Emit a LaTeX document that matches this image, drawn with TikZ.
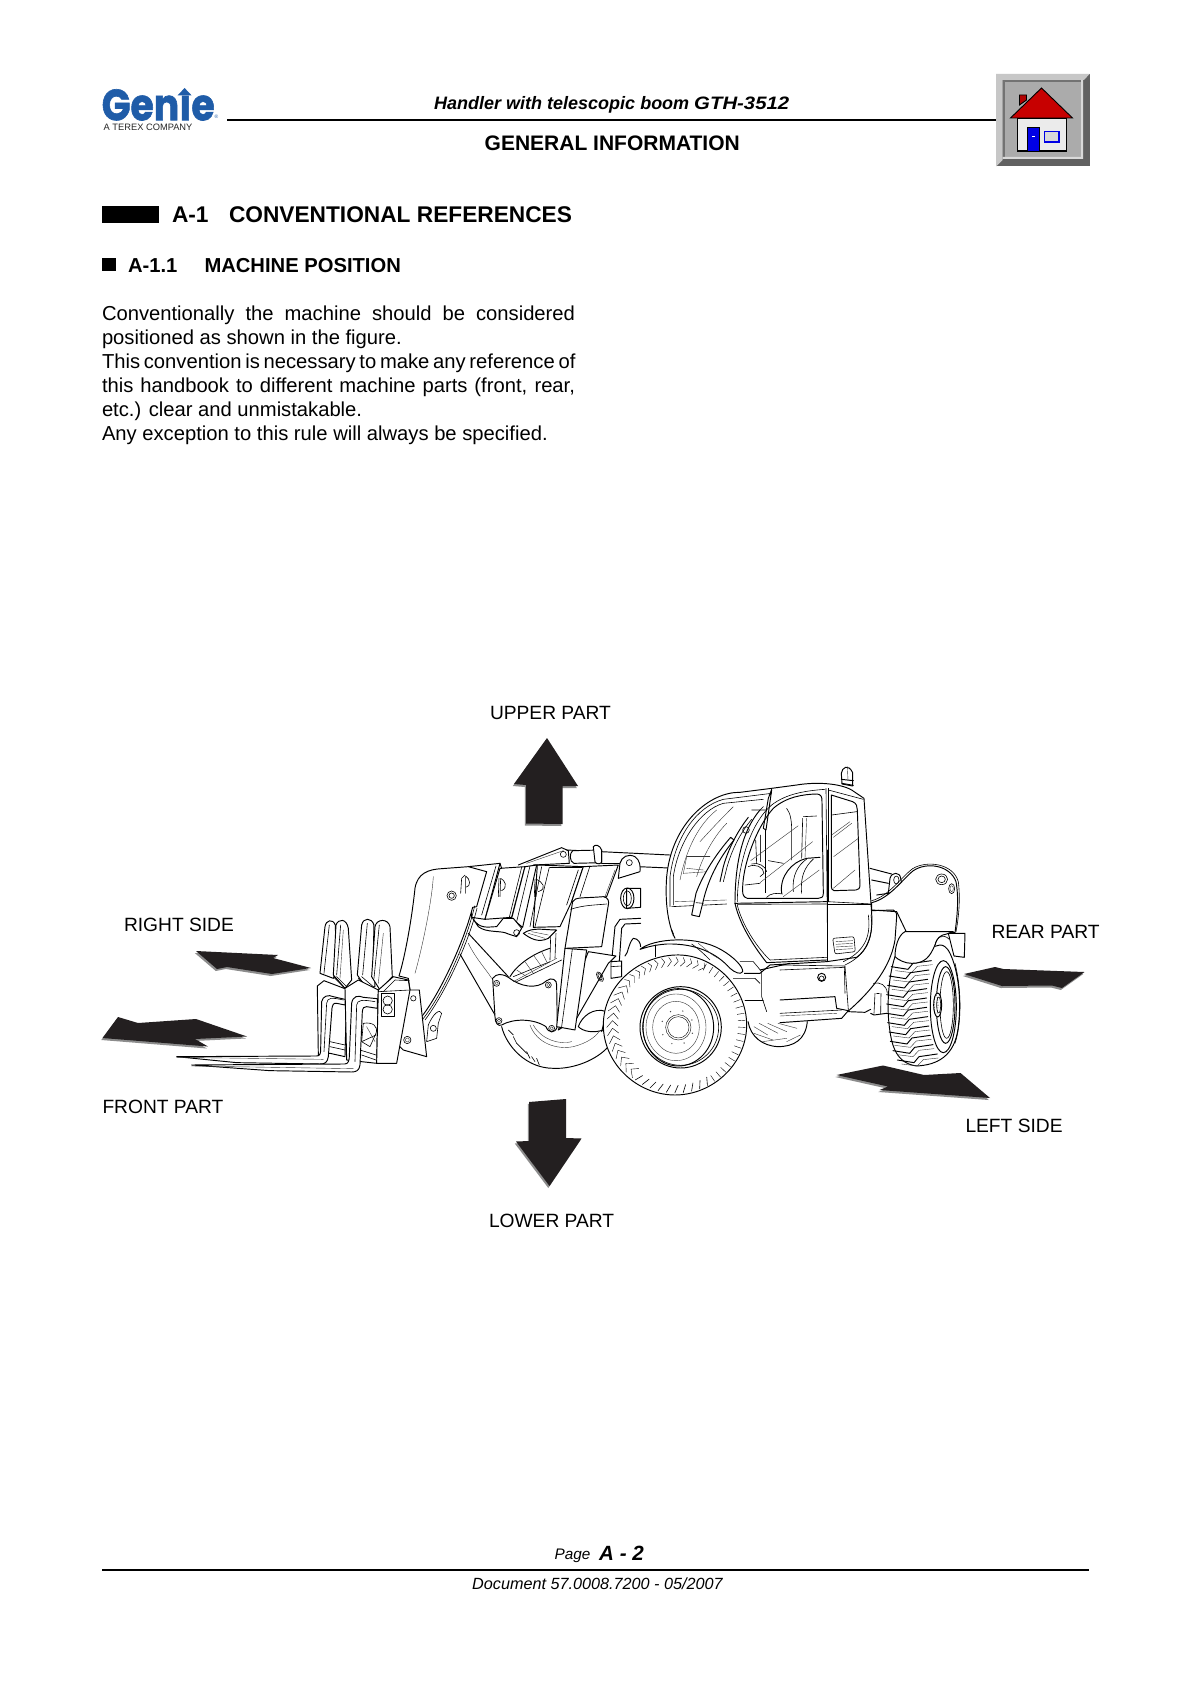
\documentclass[tikz,border=0pt]{standalone}
\usepackage{graphicx}
\usepackage{fontspec}
\setmainfont{Liberation Sans}
\newfontfamily\logofont{Poppins}[BoldFeatures={FakeBold=1.5}]
\definecolor{arrowdark}{HTML}{231F20}
\definecolor{genieblue}{HTML}{1F5CA8}
\tikzset{
  txt/.style={anchor=base west,inner sep=0pt,outer sep=0pt,font=\fontsize{20.2}{24}\selectfont},
  lab/.style={anchor=base west,inner sep=0pt,outer sep=0pt,font=\fontsize{19.2}{24}\selectfont},
  head/.style={anchor=base west,inner sep=0pt,outer sep=0pt,font=\fontsize{20.2}{24}\selectfont\bfseries},
  arrowfill/.style={fill=arrowdark},
  arrowshadow/.style={fill=black!45},
  mach/.style={draw=black,line width=0.95pt,line join=round,line cap=round},
  machw/.style={mach,fill=white},
  thin/.style={draw=black!80,line width=0.4pt,line cap=round,line join=round},
  mid/.style={draw=black,line width=0.6pt,line cap=round,line join=round},
}
\newcommand{\dirarrow}[1]{\fill[arrowshadow,shift={(-1.2,2)}] #1; \fill[arrowfill] #1;}
\begin{document}
\begin{tikzpicture}[x=1pt,y=-1pt]
\useasboundingbox (0,0) rectangle (1192,1685);
\fill[white] (0,0) rectangle (1192,1685);
% ---------- logo
\node[anchor=south west,inner sep=0pt,text=genieblue] (logoword) at (101.5,120.8) {\resizebox{113pt}{31pt}{\logofont\bfseries Gen\char"0131 e}};
\fill[genieblue] (177.5,95.5) -- (184.6,88) -- (191.7,95.5) -- cycle;
\node[anchor=base west,inner sep=0pt,font=\fontsize{9.3}{10}\selectfont,text=black!85] (logosub) at (103.5,130.5) {A TEREX COMPANY};
\node[anchor=base west,inner sep=0pt,font=\fontsize{5}{6}\selectfont,text=genieblue] (logor) at (214.5,119) {®};
% ---------- header
\draw[line width=1.7pt] (227,120) -- (996,120);
\node[anchor=base west,inner sep=0pt,font=\fontsize{18}{20}\selectfont\bfseries\itshape] (htitle) at (434,110) {Handler with telescopic boom \scalebox{1.13}[1]{GTH-3512}};
\node[anchor=base west,inner sep=0pt,font=\fontsize{21}{24}\selectfont\bfseries] (hsub) at (484.5,151) {GENERAL INFORMATION};
% ---------- house icon
\fill[black!62] (996,74) rectangle (1089.5,166.5);
\fill[black!22] (996,74) -- (1089.5,74) -- (1084,80) -- (1002.5,80) -- (1002.5,160) -- (996,166.5) -- cycle;
\fill[black!55] (1002.5,80) rectangle (1081,157);
\fill[black!33] (1004.5,82) rectangle (1081,157);
\fill[black!15] (1081,80) -- (1083,80) -- (1083,159) -- (1002.5,159) -- (1002.5,157) -- (1081,157) -- cycle;
\fill[red!70!black,draw=black,line width=0.9pt] (1019.5,105) -- (1019.5,95) -- (1026.5,95) -- (1026.5,100) -- cycle;
\fill[white!92!black,draw=black,line width=1.2pt] (1017.5,118) rectangle (1066.5,151);
\fill[red!78!black,draw=black,line width=0.9pt] (1041.5,88) -- (1072.5,118) -- (1010.5,118) -- cycle;
\fill[blue!90!black,draw=black,line width=0.9pt] (1027,127.5) rectangle (1039,151);
\fill[white] (1032,136) rectangle (1034.5,137.5);
\fill[white!85!black,draw=blue!90!black,line width=1.2pt] (1044.5,131.5) rectangle (1059,142);
% ---------- section headings
\fill (102,206) rectangle (159,223);
\node[head,font=\fontsize{22.7}{24}\selectfont\bfseries] (h1a) at (172,223) {A-1};
\node[head,font=\fontsize{22.7}{24}\selectfont\bfseries] (h1b) at (229,223) {CONVENTIONAL REFERENCES};
\fill (102,258) rectangle (116,271);
\node[head] (h2a) at (128,272.5) {A-1.1};
\node[head] (h2b) at (204.5,272.5) {MACHINE POSITION};
% ---------- body
\node[txt] (b1) at (102,320) {\makebox[473pt][s]{Conventionally the machine should be considered}};
\node[txt] (b2) at (102,344) {positioned as shown in the figure.};
\node[txt] (b3) at (102,368) {\makebox[473pt][s]{This convention is necessary to make any reference of}};
\node[txt] (b4) at (102,392) {\makebox[473pt][s]{this handbook to different machine parts (front, rear,}};
\node[txt] (b5) at (102,416) {etc.) clear and unmistakable.};
\node[txt] (b6) at (102,440) {Any exception to this rule will always be specified.};
% ---------- direction arrows
\dirarrow{(547,738) -- (578,786) -- (562.5,786) -- (562.5,824) -- (526,823.5) -- (526,785) -- (514,784) -- cycle}
\dirarrow{(529,1102) -- (566,1099) -- (566,1138) -- (581.5,1138.5) -- (549.5,1186) -- (516,1141.5) -- (529,1141) -- cycle}
\dirarrow{(196,951) -- (278,955) -- (273,958) -- (311,968) -- (272,974) -- (227,967) -- (217,969) -- cycle}
\dirarrow{(102.5,1038) -- (118,1017) -- (138,1023) -- (196,1019) -- (247,1036.5) -- (195,1039) -- (208,1046.5) -- cycle}
\dirarrow{(964,974) -- (995,967) -- (1003.5,969) -- (1084.5,972) -- (1062,988) -- (1052,985.5) -- (1002,986) -- cycle}
\dirarrow{(836.5,1075) -- (883,1065.5) -- (924,1075) -- (960.5,1073) -- (990,1098) -- (879.5,1090) -- (888,1086.5) -- cycle}
% ---------- labels
\node[lab] (lu) at (490,719) {UPPER PART};
\node[lab] (lr) at (124,931) {RIGHT SIDE};
\node[lab] (lf) at (102.5,1113) {FRONT PART};
\node[lab] (ll) at (489,1227) {LOWER PART};
\node[lab] (lb) at (991.5,938) {REAR PART};
\node[lab] (ls) at (965.5,1132) {LEFT SIDE};
% ---------- footer
\draw[line width=1.7pt] (102,1570) -- (1089,1570);
\node[anchor=base west,inner sep=0pt,font=\fontsize{15.3}{18}\selectfont\itshape] (fp) at (554.5,1559) {Page};
\node[anchor=base west,inner sep=0pt,font=\fontsize{20.6}{22}\selectfont\bfseries\itshape] (fn) at (599,1560) {A - 2};
\node[anchor=base west,inner sep=0pt,font=\fontsize{16.2}{18}\selectfont\itshape] (fd) at (472,1589.5) {Document 57.0008.7200 - 05/2007};
% ========== machine: left rear tyre (behind, seen through)
\begin{scope}[shift={(580,740)},xscale=0.3444,yscale=0.3333]
  \draw[mach] (488,845) .. controls (495,890) and (530,918) .. (575,920) .. controls (620,920) and (655,900) .. (660,845);
  \foreach \x/\y/\u/\v in {505/860/545/885,520/850/575/880,545/850/600/875,575/850/630/865,505/880/560/900,530/905/600/895,600/905/640/885}
    \draw[thin] (\x,\y) -- (\u,\v);
\end{scope}
% ========== machine: telescopic boom and front frame
\begin{scope}[shift={(300,830)},scale=0.3333]
  % front-left wheel behind frame
  \draw[mach] (605,590) .. controls (620,650) and (680,715) .. (760,715) .. controls (820,718) and (890,690) .. (925,650);
  \draw[thin] (690,585) .. controls (710,640) and (770,660) .. (820,650) .. controls (860,640) and (890,620) .. (900,600);
  \draw[thin] (700,585) .. controls (725,630) and (780,645) .. (815,635);
  \foreach \x/\y/\u/\v in {625/600/640/615,640/620/650/640,650/640/665/655,665/655/680/670,680/665/690/685,695/680/705/695,710/685/718/705}
    \draw[mid] (\x,\y) -- (\u,\v);
  % upper part of that tyre
  \draw[mach] (630,440) .. controls (650,405) and (700,370) .. (750,355);
  \foreach \x/\y/\u/\v in {650/420/680/440,675/395/700/430,700/375/725/410,725/365/740/395}
    \draw[thin] (\x,\y) -- (\u,\v);
  % boom top
  \draw[mach] (800,60) -- (1130,76);
  \draw[mach] (905,100) -- (960,100);
  \draw[mach] (1015,110) -- (1130,115);
  % boom sections
  \draw[machw] (505,110) -- (600,100) -- (555,268) -- (515,262) -- cycle;
  \draw[machw] (600,115) -- (675,110) -- (635,262) -- (555,268) -- cycle;
  \draw[mid] (588,108) -- (545,255);
  \draw[mach] (600,100) -- (605,115);
  \draw[machw] (675,110) -- (710,105) -- (668,292) -- (635,265) -- cycle;
  \draw[mid] (665,112) -- (628,262);\draw[mid] (690,108) -- (650,275);
  \draw[machw] (712,105) -- (850,110) -- (815,215) -- (780,290) -- (700,292) -- cycle;
  \draw[mid] (725,110) -- (690,290);\draw[mid] (748,112) -- (705,290);
  \draw[mid] (750,112) -- (845,112);\draw[mid] (835,120) -- (800,225);
  \draw[machw] (850,110) -- (955,105) -- (920,200) -- (815,215) -- cycle;
  \draw[mid] (870,108) -- (840,200);
  \draw[thin] (945,120) -- (915,200);
  \draw[mach] (655,105) -- (785,53) -- (805,62) -- (808,100) -- (700,105);
  \draw[thin] (680,100) -- (790,62);
  \draw[mid] (790,73) circle[radius=9];
  % cylinder on top
  \draw[machw] (818,62) .. controls (808,70) and (808,95) .. (822,100) -- (905,98) -- (905,60) -- cycle;
  \draw[machw] (880,50) .. controls (885,42) and (900,45) .. (905,60) -- (905,95) .. controls (905,102) and (890,105) .. (885,95) -- cycle;
  % ear
  \draw[machw] (955,145) -- (960,100) .. controls (965,80) and (985,70) .. (1005,80) .. controls (1020,90) and (1022,110) .. (1020,125) -- cycle;
  \draw[mid] (988,98) circle[radius=9];
  % cylinder ring and pipe
  \draw[machw] (980,175) -- (1022,175) -- (1022,232) -- (980,235) -- cycle;
  \draw[mach] (982,205) ellipse[x radius=20,y radius=31];
  \draw[mid] (982,205) ellipse[x radius=12,y radius=22];
  \draw[mach] (935,395) -- (945,290) -- (960,268) -- (1022,265);
  \draw[mach] (958,395) -- (965,295) -- (975,282) -- (1022,280);
  \draw[machw] (933,395) -- (965,393) -- (965,440) -- (933,445) -- cycle;
  \draw[mid] (933,410) -- (965,408);
  \draw[mach] (975,378) .. controls (985,370) and (985,340) .. (1000,325) .. controls (1015,325) and (1022,340) .. (1022,350);
  % frame plate right
  \draw[machw] (865,365) -- (948,378) -- (925,400) -- (830,565) -- (775,600) -- cycle;
  \draw[mid] (900,440) ellipse[x radius=8,y radius=16,rotate=30] ;
  \draw[mid] (900,440) ellipse[x radius=4,y radius=11,rotate=30] ;
  \draw[machw] (835,590) .. controls (845,560) and (880,530) .. (920,545) -- (910,600) .. controls (880,610) and (850,605) .. (835,590) -- cycle;
  \draw[mach] (920,545) -- (905,605);
  % arms
  \draw[mach] (480,372) -- (588,560);
  \draw[mach] (505,310) -- (625,440);
  \draw[thin] (505,340) .. controls (530,390) and (560,420) .. (575,445);
  % lower wishbone
  \draw[machw] (578,445) .. controls (590,430) and (605,430) .. (625,442) .. controls (660,470) and (710,480) .. (740,452) .. controls (755,440) and (772,450) .. (770,465) -- (772,590) .. controls (765,612) and (745,610) .. (738,590) .. controls (700,565) and (640,565) .. (605,585) .. controls (595,590) and (585,580) .. (585,560) -- cycle;
  \foreach \p in {(590,460),(745,465),(597,572),(755,595)} { \draw[mid] \p circle[radius=9]; \draw[thin] \p circle[radius=5]; }
  \draw[thin] (640,455) -- (770,385);
  \draw[mid] (650,455) -- (785,390);
  \draw[mid] (640,440) -- (750,395);
  % curved tips under sections
  \draw[machw] (518,265) .. controls (540,300) and (565,290) .. (590,290) -- (610,265) -- (640,265) -- (665,295) -- (650,320) -- (625,312) .. controls (605,300) and (560,310) .. (535,290) -- cycle;
  \draw[mid] (650,308) circle[radius=9];
  \draw[machw] (670,310) .. controls (700,290) and (730,300) .. (770,300) -- (745,325) .. controls (715,340) and (690,325) .. (670,310);
  \draw[thin] (685,310) -- (735,325);\draw[thin] (695,305) -- (745,315);
  \draw[mid] (752,320) -- (750,390);
  \draw[mid] (768,310) -- (765,385);
  % post and block
  \draw[machw] (795,355) -- (770,590) -- (825,600) -- (860,360) -- cycle;
  \draw[mid] (817,358) -- (785,590);
  \draw[machw] (818,215) .. controls (825,200) and (850,205) .. (910,200) .. controls (925,202) and (928,215) .. (925,225) -- (905,350) -- (795,355) -- cycle;
  \draw[mid] (812,238) .. controls (850,225) and (890,225) .. (920,222);
  % fork head
  \draw[machw] (297,438) .. controls (315,380) and (335,270) .. (345,175) .. controls (352,130) and (385,118) .. (425,116) -- (505,110) -- (560,125) -- (530,230) -- (518,232) .. controls (490,340) and (420,490) .. (365,560) -- (330,480) -- (325,445) -- cycle;
  \draw[mid] (524,228) .. controls (498,340) and (430,490) .. (368,568);
  \draw[mid] (531,235) .. controls (505,340) and (435,490) .. (375,570);
  \draw[thin] (345,430) .. controls (365,360) and (395,220) .. (400,140);
  \draw[mid] (455,197) circle[radius=14]; \draw[mid] (455,197) circle[radius=8];
  \draw[mid] (482,190) -- (485,145) -- (495,135); \draw[mid] (497,190) -- (497,138) .. controls (510,145) and (515,170) .. (497,172);
  \draw[mid] (600,200) -- (602,145) .. controls (615,150) and (625,172) .. (605,182);
  \draw[mid] (595,200) -- (597,145);
  \draw[mid] (708,200) -- (710,148) .. controls (725,155) and (745,175) .. (715,185);
  \draw[mid] (703,200) -- (705,148);
\end{scope}
% ========== machine: fork carriage
\begin{scope}[shift={(170,910)},scale=0.3333]
  % rear bracket
  \draw[machw] (700,210) -- (718,240) -- (748,240) -- (770,440) -- (700,420) -- (680,400) -- cycle;
  \draw[mid] (730,265) circle[radius=8];
  \draw[mid] (712,390) circle[radius=11];\draw[thin] (712,390) circle[radius=6];
  \draw[mid] (775,345) .. controls (790,310) and (810,295) .. (815,310) -- (805,340) -- (800,385) -- (770,395) -- cycle;
  \draw[mid] (790,355) circle[radius=9];
  % fingers
  \draw[machw] (450,190) -- (465,50) .. controls (468,30) and (488,25) .. (496,45) -- (500,190) -- (490,205) -- cycle;
  \draw[machw] (490,195) -- (498,45) .. controls (505,25) and (530,25) .. (535,55) -- (545,210) -- (525,235) -- cycle;
  \draw[mid] (462,190) -- (478,45);\draw[mid] (500,195) -- (512,45);\draw[thin] (510,205) -- (520,60);
  \draw[machw] (562,195) -- (575,45) .. controls (580,22) and (605,22) .. (612,45) -- (610,130) -- (615,230) -- (590,235) -- cycle;
  \draw[machw] (605,200) -- (615,50) .. controls (620,25) and (655,25) .. (660,50) -- (667,200) -- (630,240) -- cycle;
  \draw[mid] (578,195) -- (592,40);\draw[mid] (612,205) -- (628,45);\draw[thin] (625,220) -- (640,70);
  \draw[mid] (565,205) -- (600,235);\draw[mid] (575,200) -- (610,230);
  \draw[mid] (490,200) -- (525,235);\draw[mid] (500,200) -- (530,230);
  % carriage
  \draw[machw] (442,228) -- (462,212) -- (530,238) -- (525,440) -- (480,430) -- (445,435) -- cycle;
  \draw[machw] (525,235) -- (565,210) -- (625,240) -- (620,460) -- (530,450) -- cycle;
  \draw[mid] (480,395) -- (525,405);\draw[mid] (480,410) -- (525,420);
  \draw[mid] (580,340) .. controls (610,335) and (625,350) .. (618,370) -- (600,410) -- (575,395) -- cycle;
  \draw[mid] (575,395) -- (618,375);\draw[thin] (590,350) -- (615,395);
  \draw[mid] (570,420) -- (618,435);\draw[mid] (575,435) -- (618,450);
  % fork 1
  \draw[mach,fill=white] (20,440) -- (440,438) .. controls (450,438) and (452,430) .. (452,420) -- (455,275) .. controls (458,258) and (475,253) .. (490,260) -- (525,268) -- (525,285) -- (500,280) .. controls (490,278) and (488,285) .. (486,295) -- (475,440) .. controls (472,458) and (465,462) .. (450,462) -- (200,458) -- cycle;
  \draw[thin] (20,442) -- (460,448);
  \draw[mid] (462,425) -- (470,280) .. controls (472,262) and (485,262) .. (520,270);
  % fork 2
  \draw[mach,fill=white] (65,465) -- (525,462) .. controls (535,462) and (538,450) .. (538,440) -- (545,280) .. controls (548,258) and (565,255) .. (580,262) -- (622,266) -- (622,295) -- (590,290) .. controls (582,288) and (578,295) .. (577,305) -- (570,465) .. controls (568,482) and (558,486) .. (545,486) -- (300,482) -- cycle;
  \draw[thin] (65,468) -- (550,476);
  \draw[mid] (555,455) -- (560,285) .. controls (562,270) and (575,268) .. (615,275);
  % front plate
  \draw[machw] (625,240) -- (670,200) -- (715,210) -- (720,240) -- (680,460) -- (620,460) -- cycle;
  \draw[mid] (640,245) -- (675,210) -- (718,212);
  \draw[mid] (625,245) -- (720,240);
  \draw[mach,fill=white] (635,250) rectangle (672,320);
  \draw[mid] (653,272) circle[radius=14];\draw[mid] (653,298) circle[radius=14];
\end{scope}
% ========== machine: cab
\begin{scope}[shift={(660,760)},scale=0.3333]
  \draw[machw] (40,525) .. controls (22,480) and (15,420) .. (20,350) .. controls (35,190) and (150,95) .. (240,97) -- (335,85) -- (410,75) .. controls (470,65) and (540,70) .. (575,90) -- (612,115) -- (635,460) .. controls (640,530) and (620,570) .. (590,592) -- (500,605) -- (330,615) -- (300,640) -- (40,640) -- cycle;
  \draw[white,fill=white] (30,530) rectangle (250,655);
  \draw[mach] (40,525) -- (45,535);
  % windscreen
  \draw[mid] (30,440) -- (30,350) .. controls (45,230) and (110,140) .. (190,118) -- (335,100);
  \draw[mid] (40,435) -- (40,350) .. controls (55,245) and (120,150) .. (190,130) -- (310,118);
  \draw[mid] (35,440) -- (200,432);
  \draw[thin] (45,425) -- (200,420);
  \draw[thin] (80,290) -- (150,290);\draw[thin] (80,325) -- (130,330);
  \draw[thin] (80,290) -- (70,340);\draw[thin] (70,340) -- (145,335);
  \draw[thin] (120,245) .. controls (170,190) and (200,160) .. (220,140);
  \draw[thin] (60,360) .. controls (80,260) and (120,190) .. (170,150);
  \draw[thin] (110,350) .. controls (130,280) and (170,220) .. (200,190);
  % wiper
  \draw[machw] (95,465) -- (108,400) .. controls (130,340) and (170,280) .. (212,232) -- (222,240) .. controls (185,285) and (145,350) .. (128,430) -- (118,470) -- cycle;
  \draw[mid] (108,428) -- (130,430);
  \draw[mach] (180,365) -- (190,320) .. controls (205,265) and (235,210) .. (265,172);
  \draw[mid] (190,365) -- (200,325) .. controls (215,270) and (240,220) .. (275,178);
  \draw[mid] (258,210) circle[radius=10];
  % a-pillar
  \draw[mach] (225,430) .. controls (225,330) and (240,220) .. (300,150) -- (320,150);
  \draw[mach] (335,90) -- (318,210) -- (310,205) -- (325,115) -- (335,88);
  \draw[mid] (275,150) -- (300,150) -- (310,140);
  % door frame
  \draw[mid] (232,425) .. controls (232,320) and (270,190) .. (335,135) .. controls (380,100) and (440,92) .. (495,88);
  \draw[mach] (248,395) .. controls (245,320) and (290,200) .. (340,145) .. controls (380,110) and (430,103) .. (470,102) .. controls (482,102) and (487,110) .. (486,125) -- (490,400) .. controls (490,412) and (484,415) .. (475,415) -- (262,415) .. controls (252,412) and (248,405) .. (248,395) -- cycle;
  \draw[mach] (225,430) -- (500,425);
  \draw[mid] (232,433) -- (500,432);
  \draw[mach] (225,430) .. controls (240,500) and (290,570) .. (320,608) -- (500,600);
  \draw[mid] (232,436) .. controls (250,505) and (298,570) .. (330,600) -- (500,592);
  \draw[mid] (498,85) -- (503,600);
  \draw[mid] (505,85) -- (505,425);
  % right window
  \draw[mach] (514,105) -- (578,125) .. controls (590,130) and (592,140) .. (592,150) -- (600,375) .. controls (600,385) and (595,390) .. (588,390) -- (522,392) .. controls (516,392) and (514,385) .. (514,375) -- cycle;
  \draw[mid] (505,90) -- (610,118);
  \draw[mid] (515,165) -- (590,155);
  \draw[mid] (503,425) -- (635,432);
  \draw[mid] (505,432) -- (635,432);
  \draw[mid,line width=1pt] (505,120) -- (505,155);\draw[mid,line width=1pt] (505,345) -- (505,385);
  % seat and interior
  \draw[mach] (365,400) .. controls (358,350) and (395,305) .. (440,295) -- (480,292);
  \draw[mid] (400,395) .. controls (395,345) and (415,315) .. (440,297);
  \draw[mid] (425,400) .. controls (420,350) and (435,320) .. (460,297);
  \draw[mid] (320,412) .. controls (330,400) and (350,398) .. (368,402);
  \draw[mid] (255,375) -- (300,370);
  \draw[mid] (265,320) .. controls (285,310) and (310,320) .. (312,340) -- (300,350);
  \draw[mid] (275,312) .. controls (295,305) and (318,320) .. (320,335);
  \draw[mid] (315,210) -- (315,398);
  \draw[mid] (287,240) -- (290,310);\draw[thin] (300,225) -- (300,305);
  \draw[mid] (380,145) .. controls (392,160) and (395,185) .. (395,210) -- (395,300);
  \draw[mid] (430,170) -- (470,168);\draw[mid] (428,175) -- (425,295);\draw[thin] (440,175) -- (435,295);
  \draw[mid] (325,302) -- (370,310);
  \draw[thin] (272,302) -- (415,197);\draw[thin] (300,368) -- (458,245);\draw[thin] (370,410) -- (478,330);
  \draw[thin] (521,290) -- (595,235);\draw[thin] (520,385) -- (585,330);
  \draw[thin] (515,225) -- (570,185);\draw[thin] (520,232) -- (575,190);
  % vent
  \draw[mid,rounded corners=2pt] (518,535) -- (582,530) -- (586,575) -- (525,582) -- cycle;
  \foreach \k in {0,1,2,3} \draw[thin] (528,{545+\k*8}) -- (578,{542+\k*8});
  % beacon
  \draw[machw] (546,72) -- (544,40) .. controls (546,22) and (565,10) .. (578,38) -- (578,78) -- cycle;
  \draw[mach] (544,58) -- (580,62);\draw[mach] (546,70) -- (580,76);
  \draw[thin] (562,20) -- (564,60);
\end{scope}
% ========== machine: rear
\begin{scope}[shift={(780,850)},scale=0.3333]
  % boom rear
  \draw[mach] (270,55) -- (335,72);\draw[mach] (275,90) -- (325,100);\draw[mach] (290,135) -- (325,130);
  \draw[machw] (325,130) -- (330,85) .. controls (335,65) and (360,65) .. (362,85) -- (365,100) -- (345,125) -- cycle;
  \draw[mid] (349,90) ellipse[x radius=8,y radius=12];
  % hood
  \draw[machw] (275,158) .. controls (330,145) and (370,85) .. (400,62) .. controls (440,35) and (510,45) .. (528,95) .. controls (538,150) and (530,210) .. (525,248) -- (380,248) -- (350,185) -- (275,180) -- cycle;
  \draw[mid] (275,152) .. controls (325,140) and (365,80) .. (398,56);
  \draw[mid] (398,56) .. controls (440,30) and (520,40) .. (535,95) .. controls (542,150) and (535,210) .. (528,245);
  \draw[mid] (485,88) ellipse[x radius=18,y radius=16];\draw[mid] (485,88) ellipse[x radius=11,y radius=10];
  \draw[mid] (515,116) ellipse[x radius=9,y radius=15];\draw[thin] (515,116) ellipse[x radius=5,y radius=9];
  % body fender
  \draw[mach] (275,182) -- (340,180) .. controls (348,182) and (350,190) .. (350,200) -- (345,270) .. controls (335,330) and (300,400) .. (205,483);
  \draw[mid] (273,195) .. controls (280,250) and (270,310) .. (195,345);
  \draw[mid] (265,195) .. controls (272,250) and (262,300) .. (190,335);
  \draw[mid] (143,0) -- (143,335);
  \draw[mid] (0,345) -- (195,348) -- (205,480);
  \draw[mid] (0,360) -- (195,352);
  \draw[mid] (193,350) -- (195,430);
  \draw[mach] (125,382) circle[radius=12];\draw[mid] (125,385) circle[radius=7];
  \draw[mach] (0,450) -- (165,440) -- (170,475) -- (205,482) -- (185,505) -- (0,518);
  \draw[mid] (0,490) -- (185,480);\draw[thin] (0,498) -- (170,490);
  \draw[mach] (205,485) -- (255,487) -- (272,478);
  \draw[mach] (272,490) -- (282,495) -- (320,490);
  \draw[mid] (285,430) -- (282,490);\draw[mid] (303,430) -- (302,492);\draw[mid] (290,430) -- (298,430);
  \draw[mid] (280,400) .. controls (300,395) and (320,405) .. (322,430);
  % rear tyre
  \draw[machw] (345,320) .. controls (325,380) and (320,470) .. (328,530) .. controls (335,590) and (350,640) .. (410,648) .. controls (470,645) and (525,620) .. (535,530) .. controls (545,450) and (535,360) .. (510,310) .. controls (500,290) and (490,285) .. (480,285) -- cycle;
  \foreach \y/\d in {350/2,378/-5,406/-9,434/-12,462/-12,490/-12,518/-9,546/-5,574/-1,602/7,630/20} {
    \draw[mach] ({332+\d},\y) -- ({382+\d},{\y+8}) -- ({397+\d},{\y-10}) -- ({452+\d},{\y-18});
    \draw[thin] ({345+\d},{\y+12}) -- ({392+\d},{\y+18}) -- ({410+\d},{\y-1}) -- ({455+\d},{\y-6});
  }
  \draw[machw] (490,470) ellipse[x radius=39,y radius=138];
  \draw[mach] (497,465) ellipse[x radius=28,y radius=115];
  \draw[mid] (500,465) ellipse[x radius=20,y radius=100];
  \draw[machw] (473,465) ellipse[x radius=12,y radius=36];
  \draw[mid] (476,465) ellipse[x radius=6,y radius=24];
  \draw[mid,dotted] (468,465) ellipse[x radius=6,y radius=30];
  \draw[mid] (525,340) .. controls (545,420) and (545,520) .. (525,580);
  % mudguard
  \draw[machw] (505,250) -- (555,250) -- (553,322) -- (522,318) -- cycle;
  \draw[machw] (345,320) .. controls (345,290) and (355,255) .. (375,245) -- (520,245) -- (500,252) .. controls (480,255) and (470,265) .. (465,285) .. controls (450,320) and (435,340) .. (395,340) .. controls (375,340) and (355,330) .. (345,320) -- cycle;
  \draw[mid] (465,285) .. controls (470,260) and (490,250) .. (508,268);
\end{scope}
% ========== machine: front wheel
\begin{scope}[shift={(590,930)},scale=0.3333]
  % side structure
  \draw[mid] (450,95) -- (490,95) -- (515,125) -- (515,200) -- (530,245);
  \draw[mid] (430,145) -- (495,145) -- (510,160);
  \draw[mid] (465,212) -- (520,212);
  \draw[mach] (510,120) -- (600,100);
  % tyre
  \draw[machw] (255,75) .. controls (370,70) and (470,170) .. (470,285) .. controls (470,400) and (370,495) .. (255,495) .. controls (140,495) and (40,400) .. (40,285) .. controls (40,170) and (140,80) .. (255,75) -- cycle;
  \foreach \a in {-64,-58,...,56} \draw[thin,draw=black] ({258+212*cos(\a)*0.88},{285+208*sin(\a)*0.88}) -- ({258+212*cos(\a)*0.98},{285+208*sin(\a)*0.98});
  \foreach \a in {60,67,...,125} \draw[mid] ({258+212*cos(\a)*0.87},{285+208*sin(\a)*0.87}) -- ({258+212*cos(\a+3)*0.98},{285+208*sin(\a+3)*0.98});
  \foreach \a in {130,137,...,215} {
    \draw[thin,draw=black] ({258+212*cos(\a)*0.82},{285+208*sin(\a)*0.82}) -- ({258+212*cos(\a+5)*0.90},{285+208*sin(\a+5)*0.90}) -- ({258+212*cos(\a-1)*0.98},{285+208*sin(\a-1)*0.98});
  }
  \foreach \a in {220,226,...,296} {
    \draw[thin,draw=black] ({258+212*cos(\a)*0.85},{285+208*sin(\a)*0.85}) -- ({258+212*cos(\a+4)*0.92},{285+208*sin(\a+4)*0.92}) -- ({258+212*cos(\a+2)*0.98},{285+208*sin(\a+2)*0.98});
  }
  % rim
  \draw[mach] (272,292) circle[radius=122];
  \draw[mid] (272,292) circle[radius=114];
  \draw[mach] (265,292) ellipse[x radius=106,y radius=116];
  \draw[thin] (258,292) ellipse[x radius=90,y radius=100];
  \draw[thin] (258,292) ellipse[x radius=70,y radius=78];
  \draw[thin,draw=black] (265,292) circle[radius=38];
  \draw[thin,draw=black] (265,292) circle[radius=32];
  \foreach \a in {0,45,...,315} \fill[black!70] ({262+48*cos(\a+20)},{292+52*sin(\a+20)}) circle[radius=2.2];
  % fender
  \draw[machw] (150,58) .. controls (190,25) and (320,15) .. (395,60) .. controls (430,80) and (460,110) .. (458,125) .. controls (452,135) and (435,128) .. (420,115) .. controls (380,70) and (320,40) .. (230,42) .. controls (190,45) and (170,52) .. (150,58) -- cycle;
  \draw[mid] (195,45) -- (195,80);\draw[mid] (305,42) .. controls (330,60) and (345,75) .. (360,90);
  \draw[thin] (325,40) .. controls (350,60) and (365,75) .. (385,85);
  \draw[mach] (245,0) -- (250,12);
\end{scope}
\end{tikzpicture}
\end{document}
